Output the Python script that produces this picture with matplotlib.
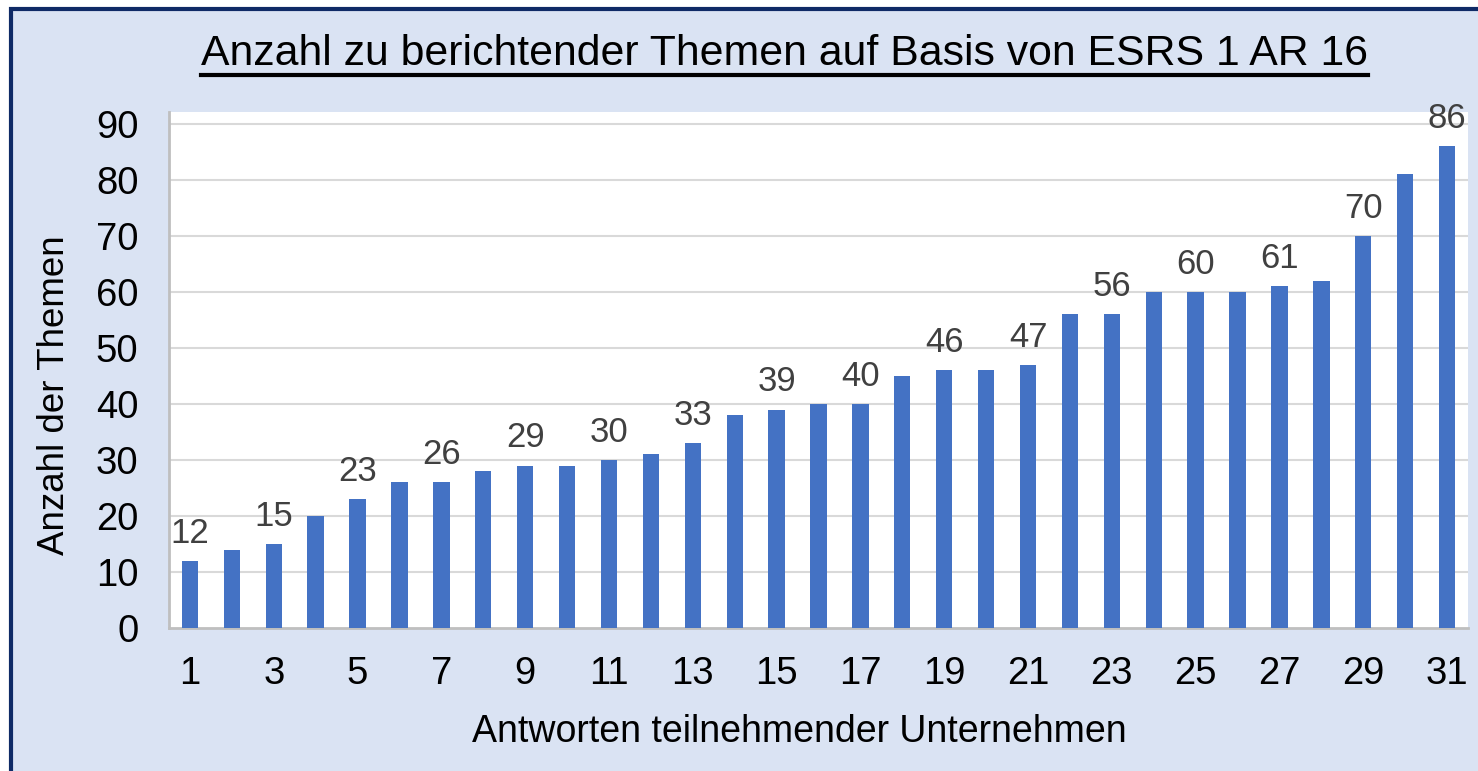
import numpy as np
import matplotlib.pyplot as plt
from matplotlib.patches import Rectangle

plt.rcParams['font.family'] = ['Liberation Sans', 'DejaVu Sans']

# data
antworten = list(range(1, 32))
themen = [12, 14, 15, 20, 23, 26, 26, 28, 29, 29, 30, 31, 33, 38, 39, 40, 40,
          45, 46, 46, 47, 56, 56, 60, 60, 60, 61, 62, 70, 81, 86]
tick_labels = [str(i) for i in antworten if i % 2 == 1]

bg = '#DAE3F3'
bar_color = '#4472C4'

fig = plt.figure(figsize=(14.78, 7.71), dpi=100)
fig.patch.set_facecolor('white')

# chart area box with dark border (cropped at right/bottom)
box = Rectangle((11 / 1478, -0.05), 1.1, (767 - 5) / 771 + 0.05,
                transform=fig.transFigure, facecolor=bg,
                edgecolor='#0F2A66', linewidth=3, zorder=-5)
fig.add_artist(box)

ax = fig.add_axes([169 / 1478, 1 - 628 / 771, (1468 - 169) / 1478, (628 - 112) / 771])
ax.set_zorder(2)
ax.set_facecolor('white')

bars = ax.bar(antworten, themen, width=0.39, color=bar_color, zorder=3)

ax.set_xlim(0.5, 31.5)
ax.set_ylim(0, 90 * 516 / 504)
ax.set_yticks(range(0, 91, 10))
ax.set_xticks([i for i in antworten if i % 2 == 1])
ax.set_xticklabels(tick_labels)
ax.tick_params(axis='both', length=0, labelsize=27.5, colors='black')
ax.tick_params(axis='x', pad=20)
ax.tick_params(axis='y', pad=22)

for y in range(10, 91, 10):
    ax.axhline(y, color='#D9D9D9', linewidth=1.5, zorder=1)

for s in ['top', 'right']:
    ax.spines[s].set_visible(False)
for s in ['left', 'bottom']:
    ax.spines[s].set_color('#BFBFBF')
    ax.spines[s].set_linewidth(2)

# value labels on odd bars
for x, v in zip(antworten, themen):
    if x % 2 == 1:
        ax.annotate(str(v), (x, v), xytext=(0, 8), textcoords='offset points',
                    ha='center', va='bottom', fontsize=25, color='#404040', zorder=4)

t = fig.text(784 / 1478, 1 - 54 / 771, 'Anzahl zu berichtender Themen auf Basis von ESRS 1 AR 16',
             ha='center', va='center', fontsize=30.8, color='black')
# underline for title
fig.canvas.draw()
bb = t.get_window_extent()
fig.add_artist(plt.Line2D([bb.x0 / 1478, bb.x1 / 1478], [1 - 75 / 771, 1 - 75 / 771],
                          transform=fig.transFigure, color='black', linewidth=3))

fig.text(799 / 1478, 1 - 732 / 771, 'Antworten teilnehmender Unternehmen',
         ha='center', va='center', fontsize=27, color='black')
fig.text(55 / 1478, 1 - 395 / 771, 'Anzahl der Themen', rotation=90,
         ha='center', va='center', fontsize=26.5, color='black')

fig.savefig('out.png', dpi=100, facecolor=fig.get_facecolor())
